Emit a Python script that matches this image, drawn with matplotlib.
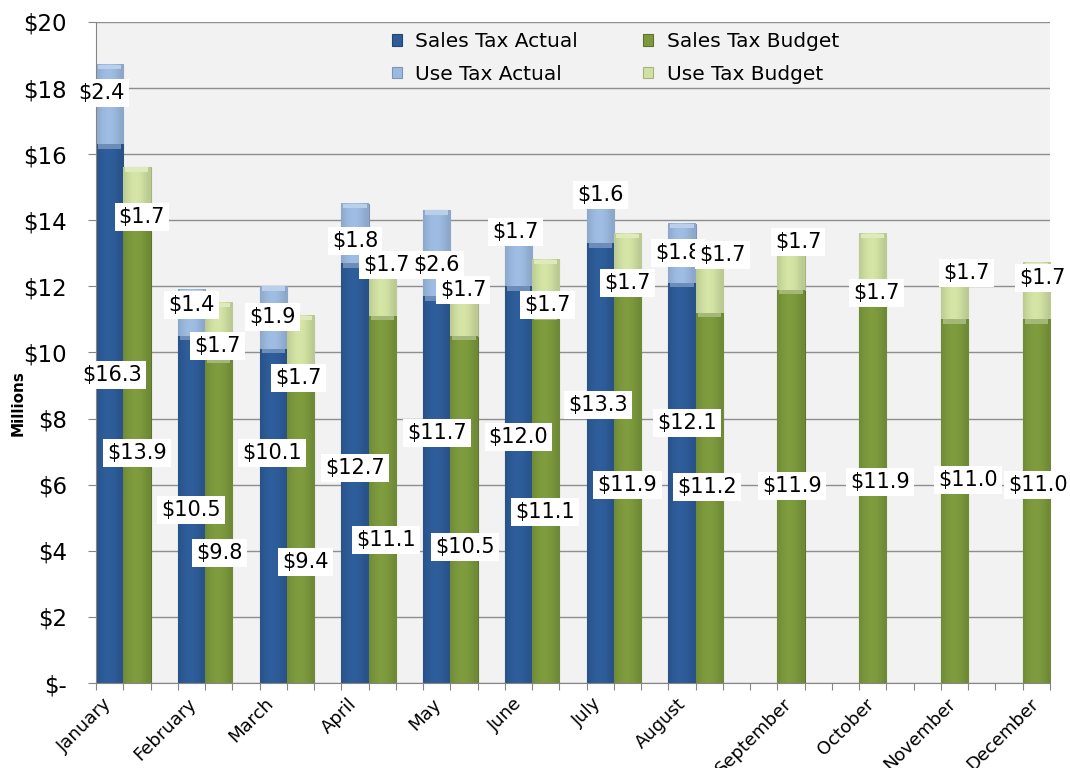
import matplotlib.pyplot as plt
import numpy as np
from matplotlib.colors import to_rgb

months = ['January', 'February', 'March', 'April', 'May', 'June',
          'July', 'August', 'September', 'October', 'November', 'December']

# values in $ millions (actuals only through August)
sales_actual = [16.3, 10.5, 10.1, 12.7, 11.7, 12.0, 13.3, 12.1]
use_actual = [2.4, 1.4, 1.9, 1.8, 2.6, 1.7, 1.6, 1.8]
sales_budget = [13.9, 9.8, 9.4, 11.1, 10.5, 11.1, 11.9, 11.2, 11.9, 11.9, 11.0, 11.0]
use_budget = [1.7, 1.7, 1.7, 1.7, 1.7, 1.7, 1.7, 1.7, 1.7, 1.7, 1.7, 1.7]

# where the data labels sit (value axis) and their sideways nudge in pixels
sales_actual_lbl_y = [9.32, 5.23, 6.96, 6.51, 7.56, 7.44, 8.41, 7.87]
sales_actual_lbl_dx = [2, 0, -1, 0, 0, 0, -2, 5]
use_actual_lbl_y = [17.85, 11.44, 11.07, 13.37, 12.65, 13.65, 14.77, 13.01]
use_actual_lbl_dx = [-8, 0, -1, 0, 0, -3, 0, -4]
sales_budget_lbl_y = [6.96, 3.93, 3.66, 4.33, 4.11, 5.17, 5.99, 5.93, 5.96, 6.08, 6.14, 5.99]
sales_budget_lbl_dx = [0, 1, 5, 4, 1, -1, 0, -2, 1, 7, 13, 2]
use_budget_lbl_y = [14.10, 10.20, 9.23, 12.65, 11.89, 11.44, 12.10, 12.95, 13.34, 11.80, 12.41, 12.25]
use_budget_lbl_dx = [5, -1, -2, 4, -1, 2, 0, 13, 7, 4, 12, 6]
# month names: right end of each rotated label relative to the group centre (px)
month_lbl_dx = [-10, -8, -12, -11, -8, -9, -11, -9, 16, 16, 16, 17]

DARK_BLUE = '#2D5C98'
LIGHT_BLUE = '#9CBAE0'
GREEN = '#7C9A3D'
LIGHT_GREEN = '#D0E1A2'

fig = plt.figure(figsize=(10.7, 7.68), dpi=100)
ax = fig.add_axes([96 / 1070, 85 / 768, 954 / 1070, 661 / 768])
ax.set_facecolor('#F2F2F2')
ax.set_axisbelow(True)

x_act = np.arange(len(sales_actual)) * 3 + 0.5
x_bud = np.arange(len(sales_budget)) * 3 + 1.5


def darker(c, f):
    r, g, b = to_rgb(c)
    return (r * f, g * f, b * f)


def lighter(c, f):
    r, g, b = to_rgb(c)
    return (r + (1 - r) * f, g + (1 - g) * f, b + (1 - b) * f)


def shade(container, color):
    # fake the bevelled Excel look: a soft horizontal gradient plus a light cap
    t = np.linspace(0, 1, 64)
    prof = 0.9 + 0.12 * np.sin(np.pi * np.clip(t * 1.1, 0, 1))
    base = np.array(to_rgb(color))
    img = np.clip(base[None, None, :] * prof[None, :, None], 0, 1)
    for bar in container:
        x0, y0 = bar.get_x(), bar.get_y()
        w, h = bar.get_width(), bar.get_height()
        ax.imshow(img, extent=[x0, x0 + w, y0, y0 + h], aspect='auto',
                  zorder=2, clip_path=bar, interpolation='bilinear')
        cap = min(0.13, h)
        ax.bar(x0 + w / 2, cap, width=w * 0.85, bottom=y0 + h - cap,
               color=lighter(color, 0.3), zorder=3, linewidth=0)


sa = ax.bar(x_act, sales_actual, width=1.0, color=DARK_BLUE,
            edgecolor=darker(DARK_BLUE, 0.75), linewidth=0.8, zorder=2,
            label='Sales Tax Actual')
ua = ax.bar(x_act, use_actual, width=1.0, bottom=sales_actual, color=LIGHT_BLUE,
            edgecolor=darker(LIGHT_BLUE, 0.8), linewidth=0.8, zorder=2,
            label='Use Tax Actual')
sb = ax.bar(x_bud, sales_budget, width=1.0, color=GREEN,
            edgecolor=darker(GREEN, 0.75), linewidth=0.8, zorder=2,
            label='Sales Tax Budget')
ub = ax.bar(x_bud, use_budget, width=1.0, bottom=sales_budget, color=LIGHT_GREEN,
            edgecolor=darker(LIGHT_GREEN, 0.8), linewidth=0.8, zorder=2,
            label='Use Tax Budget')

for cont, col in [(sa, DARK_BLUE), (ua, LIGHT_BLUE), (sb, GREEN), (ub, LIGHT_GREEN)]:
    shade(cont, col)


def put_labels(xs, vals, ys, dxs, z):
    for x, v, y, dx in zip(xs, vals, ys, dxs):
        ax.annotate(f'${v:.1f}', xy=(x, y), xytext=(dx, 0),
                    textcoords='offset pixels', ha='center', va='center',
                    fontsize=15, color='black', zorder=z,
                    bbox=dict(boxstyle='square,pad=0.2', fc='white', ec='none'))


put_labels(x_act, sales_actual, sales_actual_lbl_y, sales_actual_lbl_dx, 6)
put_labels(x_act, use_actual, use_actual_lbl_y, use_actual_lbl_dx, 7)
put_labels(x_bud, sales_budget, sales_budget_lbl_y, sales_budget_lbl_dx, 8)
put_labels(x_bud, use_budget, use_budget_lbl_y, use_budget_lbl_dx, 9)

ax.set_xlim(0, 35)
ax.set_ylim(0, 20)

yt = np.arange(0, 21, 2)
ax.set_yticks(yt)
ax.set_yticklabels(['$-' if v == 0 else f'${v}' for v in yt])
ax.yaxis.grid(True, color='#8E8E8E', linewidth=1.0)
ax.tick_params(axis='y', length=6, color='#868686', pad=15, labelsize=16.5)

ax.set_xticks(np.arange(0, 36))
ax.set_xticklabels([])
ax.tick_params(axis='x', length=5, color='#868686')

# month names, rotated, drawn by hand so each one can be nudged like the original
for i, (m, dx) in enumerate(zip(months, month_lbl_dx)):
    ax.annotate(m, xy=(i * 3 + 1, 0), xycoords=('data', 'axes fraction'),
                xytext=(dx - 4, -18), textcoords='offset pixels',
                rotation=45, ha='right', va='center', rotation_mode='anchor',
                fontsize=13, annotation_clip=False)

for s in ['top', 'right']:
    ax.spines[s].set_visible(False)
for s in ['left', 'bottom']:
    ax.spines[s].set_color('#868686')

fig.text(18 / 1070, 1 - 403 / 768, 'Millions', rotation=90, fontsize=11,
         fontweight='bold', ha='center', va='center')

ax.legend(handles=[sa, ua, sb, ub], ncol=2, frameon=False, fontsize=14.5,
          loc='upper left', bbox_to_anchor=(392 / 1070, 1 - 32 / 768),
          bbox_transform=fig.transFigure, borderpad=0, borderaxespad=0,
          handlelength=0.5, handleheight=0.5, handletextpad=0.65,
          columnspacing=3.25, labelspacing=0.69)

fig.savefig('out.png', dpi=100)
